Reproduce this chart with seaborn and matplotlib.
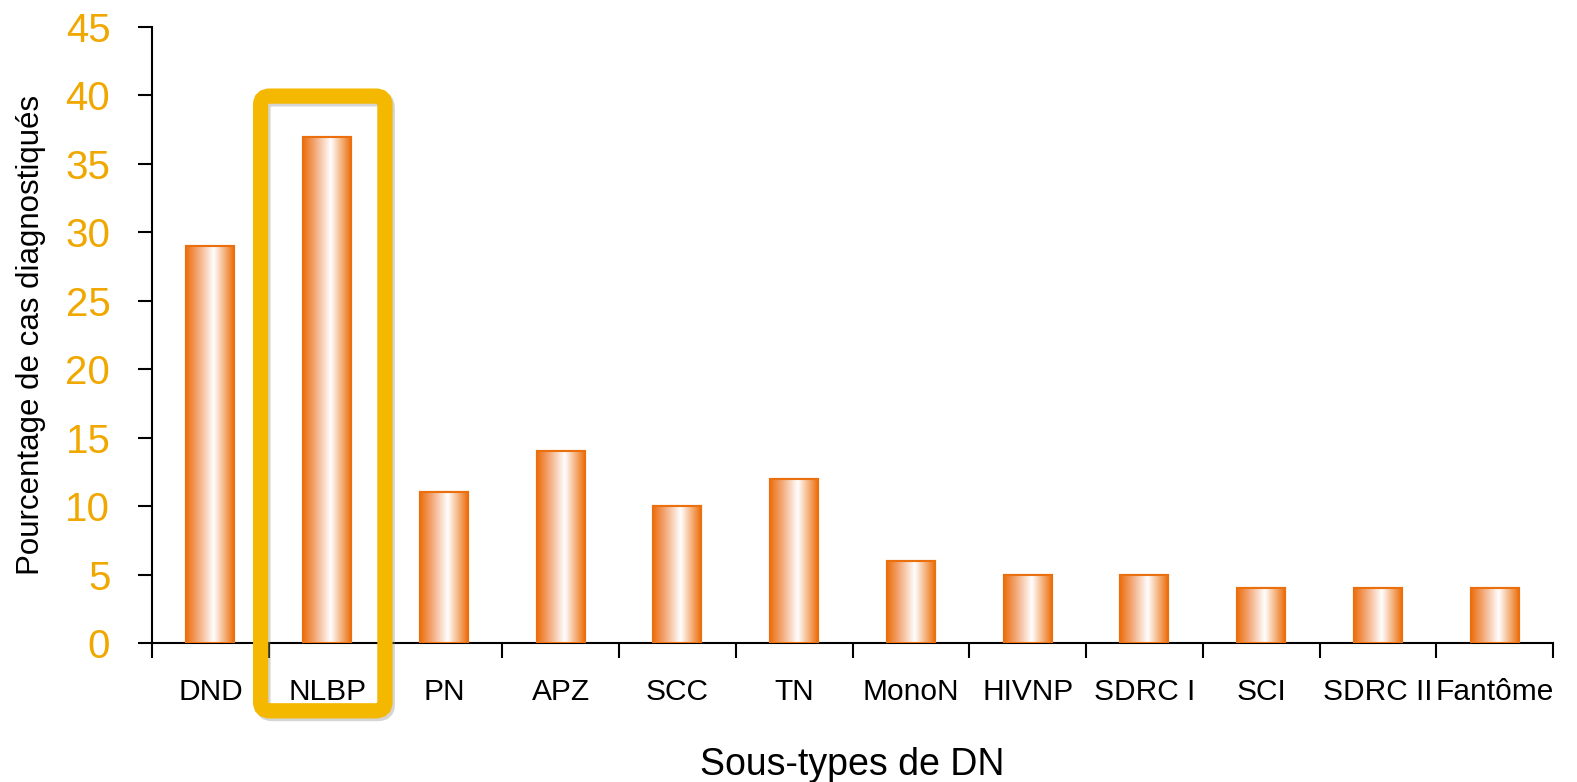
import matplotlib
matplotlib.use("Agg")
import matplotlib.pyplot as plt
from matplotlib.colors import LinearSegmentedColormap
from matplotlib.patches import FancyBboxPatch
import numpy as np
import pandas as pd
import seaborn as sns

categories = ['DND', 'NLBP', 'PN', 'APZ', 'SCC', 'TN', 'MonoN', 'HIVNP',
              'SDRC I', 'SCI', 'SDRC II', 'Fantôme']
values = [29, 37, 11, 14, 10, 12, 6, 5, 5, 4, 4, 4]
y_ticks = [0, 5, 10, 15, 20, 25, 30, 35, 40, 45]

df = pd.DataFrame({'Sous-type': categories, 'Pourcentage': values})

sns.set_style('white')
plt.rcParams['font.family'] = ['Liberation Sans', 'DejaVu Sans']
plt.rcParams['text.color'] = 'black'
plt.rcParams['axes.labelcolor'] = 'black'
plt.rcParams['xtick.color'] = 'black'
plt.rcParams['ytick.color'] = 'black'

gold = '#F5B800'
orange = '#EC6F0E'
grad = LinearSegmentedColormap.from_list(
    'bar', [(0, orange), (0.25, '#F3A777'), (0.58, '#FFFFFF'), (1, orange)])

fig = plt.figure(figsize=(15.77, 7.82), dpi=100)
ax = fig.add_axes([0.0964, 0.1777, 0.8884, 0.7878])

sns.barplot(data=df, x='Sous-type', y='Pourcentage', order=categories,
            color='white', width=0.41, edgecolor=orange, linewidth=1.5,
            ax=ax, zorder=3)

# gradient fill clipped to each bar
g = np.linspace(0, 1, 256).reshape(1, -1)
for patch in list(ax.patches):
    x0, y0 = patch.get_x(), patch.get_y()
    w, h = patch.get_width(), patch.get_height()
    im = ax.imshow(g, cmap=grad, aspect='auto', extent=(x0, x0 + w, y0, y0 + h),
                   zorder=3.5, interpolation='bicubic')
    im.set_clip_path(patch)
    ax.add_patch(plt.Rectangle((x0, y0), w, h, fill=False, edgecolor=orange,
                               linewidth=1.5, zorder=4))

ax.set_xlim(-0.5, len(categories) - 0.5)
ax.set_ylim(0, 45)
ax.set_yticks(y_ticks)
ax.set_yticklabels([str(t) for t in y_ticks], color='#F0A800', fontsize=29)
ax.tick_params(axis='y', direction='out', length=10, width=1.5, pad=20, left=True)

ax.set_xticks(range(len(categories)))
ax.set_xticklabels(categories, fontsize=21.5)
ax.set_xticks(np.arange(-0.5, len(categories), 1), minor=True)
ax.tick_params(axis='x', which='major', length=0, pad=25)
ax.tick_params(axis='x', which='minor', direction='out', length=11, width=1.5, bottom=True)

ax.set_xlabel('Sous-types de DN', fontsize=27, labelpad=30)
ax.set_ylabel('Pourcentage de cas diagnostiqués', fontsize=22.5, labelpad=14)

for s in ['top', 'right']:
    ax.spines[s].set_visible(False)
for s in ['left', 'bottom']:
    ax.spines[s].set_linewidth(1.5)
    ax.spines[s].set_color('black')
ax.grid(False)

# highlight frame around NLBP, with a soft shadow
frame = dict(boxstyle='round,pad=0,rounding_size=0.08', mutation_aspect=8,
             fill=False, linewidth=11, clip_on=False)
shadow = FancyBboxPatch((0.45, -5.15), 1.065, 44.9, edgecolor='#888888',
                        alpha=0.35, zorder=5.5, **frame)
ax.add_patch(shadow)
box = FancyBboxPatch((0.43, -4.95), 1.065, 44.9, edgecolor=gold, zorder=6, **frame)
ax.add_patch(box)

fig.savefig('out.png', dpi=100)
